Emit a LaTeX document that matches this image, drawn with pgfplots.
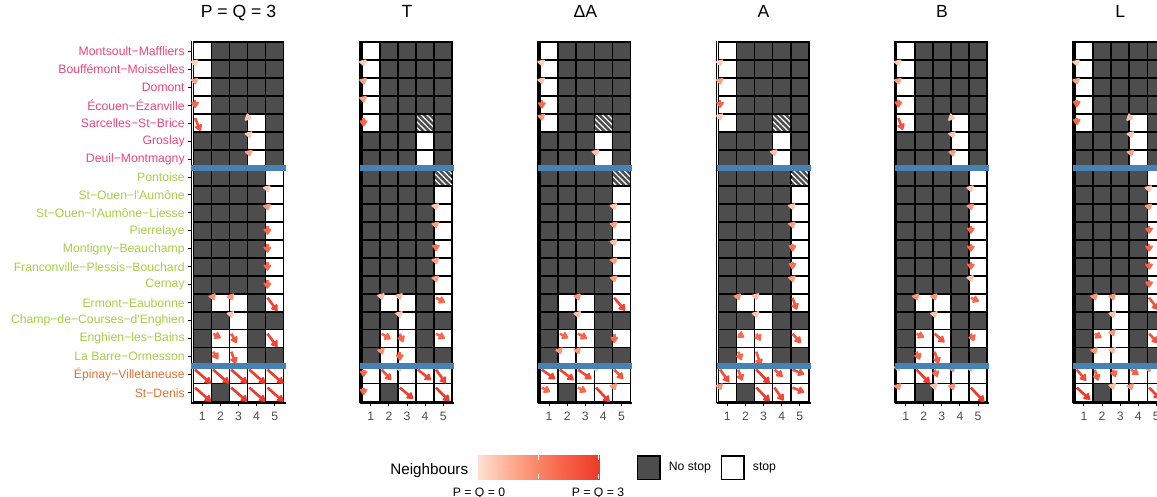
\documentclass[border=0pt]{standalone}
\usepackage{pgfplots}
\pgfplotsset{compat=1.18}
\usepackage{pgfplotstable}
\usepackage{fontspec}
\setmainfont{Liberation Sans}
\newfontfamily\labfont{Liberation Sans}
\newcommand\ap{{\labfont'}}
\usetikzlibrary{arrows.meta,patterns.meta}
\definecolor{tiledark}{HTML}{4D4D4D}
\definecolor{pinklab}{HTML}{E8457A}
\definecolor{greenlab}{HTML}{A3CF45}
\definecolor{orangelab}{HTML}{E07234}
\definecolor{sepblue}{HTML}{4682B4}
\definecolor{ticklab}{HTML}{4D4D4D}
\pgfplotsset{colormap={reds}{rgb255=(254,224,210) rgb255=(252,162,132) rgb255=(248,104,76) rgb255=(238,58,42)}}

% tiles: 0 = no stop, 1 = stop, 2 = hatched
\pgfplotstableread{
y c1 c2 c3 c4 c5
20 1 0 0 0 0
19 1 0 0 0 0
18 1 0 0 0 0
17 1 0 0 0 0
16 1 0 0 1 0
15 0 0 0 1 0
14 0 0 0 1 0
13 0 0 0 0 1
12 0 0 0 0 1
11 0 0 0 0 1
10 0 0 0 0 1
9 0 0 0 0 1
8 0 0 0 0 1
7 0 0 0 0 1
6 0 1 1 0 1
5 0 0 1 0 0
4 0 1 1 0 1
3 0 1 1 0 0
2 1 1 1 1 1
1 1 0 1 1 1
}\tilesA
\pgfplotstableread{
y c1 c2 c3 c4 c5
20 1 0 0 0 0
19 1 0 0 0 0
18 1 0 0 0 0
17 1 0 0 0 0
16 1 0 0 2 0
15 0 0 0 1 0
14 0 0 0 1 0
13 0 0 0 0 2
12 0 0 0 0 1
11 0 0 0 0 1
10 0 0 0 0 1
9 0 0 0 0 1
8 0 0 0 0 1
7 0 0 0 0 1
6 0 1 1 0 1
5 0 0 1 0 0
4 0 1 1 0 1
3 0 1 1 0 0
2 1 1 1 1 1
1 1 0 1 1 1
}\tilesB

\pgfplotstableread{
x y u v m
1 19 0.03 -0.12 0.3
1 18 0.03 -0.14 1.0
1 17 0 -0.45 2.0
1 16 0.3 -0.72 2.5
4 16 0.12 -0.04 0.4
4 15 0.03 -0.12 0.3
4 14 0.03 -0.14 1.0
5 12 0.03 -0.12 0.4
5 11 0.03 -0.14 1.2
5 10 0 -0.5 2.0
5 9 0 -0.5 2.0
5 8 0 -0.5 2.0
5 7 0 -0.5 2.0
2 6 0.06 -0.14 1.3
3 6 0.06 -0.14 1.3
5 6 0.55 -0.74 2.8
3 5 0.03 -0.12 0.4
2 4 0.42 -0.24 2.2
3 4 0.3 -0.52 2.4
5 4 0.55 -0.74 2.8
2 3 0.28 -0.42 2.2
3 3 0.25 -0.67 2.4
1 2 0.88 -0.78 3.0
2 2 0.88 -0.78 3.0
3 2 0.88 -0.78 3.0
4 2 0.88 -0.78 3.0
5 2 0.88 -0.78 3.0
1 1 0.88 -0.78 3.0
3 1 0.88 -0.78 3.0
4 1 0.88 -0.78 3.0
5 1 0.88 -0.78 3.0
}\arrP
\pgfplotstableread{
x y u v m
1 19 0.03 -0.12 0.3
1 18 0.03 -0.14 1.0
1 17 0.03 -0.14 1.0
1 16 0 -0.47 2.0
5 11 0.03 -0.12 0.4
5 10 0.03 -0.14 1.0
5 9 0 -0.4 1.8
5 8 0.03 -0.14 1.0
5 7 0.03 -0.14 1.0
2 6 0.03 -0.12 0.5
3 6 0.03 -0.12 0.6
5 6 0.5 -0.26 2.0
3 5 0.03 -0.12 0.4
2 4 0.5 -0.3 2.0
3 4 0.18 -0.48 2.0
5 4 0.5 -0.26 2.0
2 3 0.05 -0.16 1.3
3 3 0 -0.5 2.0
1 2 0 -0.4 2.0
2 2 0.53 -0.58 2.5
3 2 0.03 -0.12 0.4
4 2 0.73 -0.58 2.7
5 2 0.55 -0.76 2.8
1 1 0 -0.42 2.0
3 1 0.74 -0.62 2.9
5 1 0.74 -0.76 3.0
}\arrT
\pgfplotstableread{
x y u v m
1 19 0.03 -0.12 0.3
1 18 0.03 -0.12 0.4
1 17 0 -0.47 2.0
1 16 0.03 -0.14 1.2
4 14 0.03 -0.12 0.5
5 11 0.03 -0.12 0.4
5 10 0.03 -0.14 1.0
5 9 0.03 -0.12 0.5
5 8 0.03 -0.14 1.0
5 7 0.03 -0.14 1.0
3 6 0.05 -0.14 1.2
5 6 0.6 -0.72 2.8
3 5 0.03 -0.12 0.5
2 4 0.46 -0.24 2.0
3 4 0.5 -0.27 2.1
5 4 0 -0.52 2.0
2 3 0.05 -0.14 1.2
3 3 0.05 -0.14 1.2
1 2 0.74 -0.52 2.8
2 2 0.76 -0.58 2.8
3 2 0.74 -0.52 2.6
4 2 0.03 -0.12 0.4
5 2 0.5 -0.52 2.4
1 1 0.46 -0.24 2.0
3 1 0.46 -0.24 2.0
4 1 0.74 -0.8 3.0
5 1 0.05 -0.14 1.2
}\arrDA
\pgfplotstableread{
x y u v m
1 19 0.03 -0.12 0.3
1 18 0.03 -0.14 1.0
1 17 0 -0.44 2.0
1 16 0.03 -0.12 0.4
4 14 0.03 -0.12 0.5
5 11 0.03 -0.12 0.4
5 10 0.03 -0.14 1.0
5 9 0 -0.42 1.8
5 8 0 -0.42 1.8
5 7 0.03 -0.14 1.0
2 6 0.05 -0.14 1.2
3 6 0.03 -0.12 0.5
5 6 0.24 -0.67 2.3
3 5 0.03 -0.12 0.4
2 4 0.33 -0.2 1.9
3 4 0.24 -0.39 2.0
5 4 0.46 -0.52 2.4
2 3 0.18 -0.48 2.0
3 3 0.24 -0.76 2.3
1 2 0.5 -0.7 2.6
2 2 0.22 -0.62 2.3
3 2 0.74 -0.76 3.0
4 2 0.46 -0.39 2.4
5 2 0.65 -0.26 2.5
1 1 0.05 -0.14 1.2
3 1 0.74 -0.76 3.0
4 1 0.5 -0.72 2.7
5 1 0.65 -0.26 2.5
}\arrA
\pgfplotstableread{
x y u v m
1 19 0.03 -0.12 0.3
1 18 0.03 -0.14 1.0
1 17 0 -0.42 2.0
1 16 0.24 -0.67 2.5
4 16 0.12 -0.04 0.5
4 15 0.03 -0.12 0.4
4 14 0.03 -0.14 1.0
5 12 0.03 -0.12 0.4
5 11 0.03 -0.14 1.2
5 10 0 -0.44 2.0
5 9 0 -0.44 2.0
5 8 0 -0.44 2.0
5 7 0.03 -0.12 0.5
2 6 0.05 -0.14 1.2
3 6 0.05 -0.14 1.2
5 6 0.46 -0.2 2.0
3 5 0.03 -0.12 0.5
2 4 0.42 -0.2 2.0
3 4 0.55 -0.48 2.4
5 4 0.18 -0.42 2.0
2 3 0.18 -0.44 2.0
3 3 0.22 -0.67 2.3
1 2 0.03 -0.12 0.5
2 2 0.74 -0.76 3.0
3 2 0.15 -0.42 2.0
4 2 0.05 -0.14 1.3
5 2 0.03 -0.12 0.6
1 1 0.05 -0.14 1.3
3 1 0.03 -0.12 0.5
4 1 0.05 -0.14 1.3
5 1 0.74 -0.8 3.0
}\arrB
\pgfplotstableread{
x y u v m
1 19 0.03 -0.12 0.3
1 18 0.03 -0.14 1.0
1 17 0 -0.4 2.0
1 16 0 -0.4 2.0
4 16 0.12 -0.04 0.5
4 15 0.03 -0.12 0.4
4 14 0.03 -0.14 1.0
5 12 0.03 -0.12 0.4
5 11 0.03 -0.14 1.0
5 10 0 -0.44 2.0
5 9 0 -0.44 2.0
5 8 0 -0.44 2.0
5 7 0 -0.44 2.0
2 6 0.05 -0.14 1.2
3 6 0.05 -0.14 1.2
5 6 0.5 -0.67 2.5
3 5 0.03 -0.12 0.5
2 4 0.37 -0.24 2.0
3 4 0.05 -0.14 1.2
5 4 0.5 -0.52 2.5
2 3 0.05 -0.14 1.2
3 3 0.03 -0.12 0.6
1 2 0.52 -0.62 2.6
2 2 0.18 -0.62 2.3
3 2 0.15 -0.42 2.0
4 2 0.42 -0.28 2.1
5 2 0.05 -0.14 1.2
1 1 0.74 -0.67 3.0
3 1 0.03 -0.12 0.5
4 1 0.05 -0.14 1.2
5 1 0.6 -0.62 2.8
}\arrL

\pgfplotsset{
  panel/.style={
    set layers,
    anchor=south west,
    x=9.05pt, y=8.985pt,
    xmin=0.4, xmax=5.6, ymin=0.43, ymax=20.55,
    axis x line*=bottom, axis y line*=left,
    axis line style={line width=0.85pt, -, black},
    xtick={1,2,3,4,5},
    ytick=\empty,
    tick align=outside,
    major tick length=1.8pt,
    tick style={line width=0.5pt, black},
    /pgf/number format/assume math mode=true,
    xticklabel style={font=\fontsize{6.1}{7}\selectfont, text=ticklab, inner sep=0pt},
    xticklabel shift=2.6pt,
    title style={font=\fontsize{8.8}{10}\selectfont, at={(0.5,1)}, anchor=base, yshift=5.7pt},
    clip=false,
    colormap name=reds,
    point meta min=0, point meta max=3,
  },
  tile/.style={only marks, scatter, point meta=explicit symbolic,
    on layer=axis background, mark layer=axis background,
    scatter/classes={0={mark=square*, fill=tiledark, draw=black},
                     1={mark=square*, fill=white, draw=black},
                     2={mark=square*, fill=tiledark, draw=black}},
    mark size=4.5pt, mark options={line width=0.75pt}},
  flowarrow/.style={quiver={u=\thisrow{u}, v=\thisrow{v}, colored},
    point meta=\thisrow{m}, -{Triangle[length=3.5pt,width=4.4pt,round]}, line width=1.3pt},
  hatch/.style={draw=black, line width=0.75pt,
    pattern={Lines[angle=-45,distance=2pt,line width=0.6pt]}, pattern color=white},
  sep/.style={sepblue, line width=3pt},
}

\newcommand\tiles[1]{%
  \pgfplotsinvokeforeach{1,2,3,4,5}{\addplot[tile] table[x expr=##1, y=y, meta=c##1]{#1};}}
\newcommand\arrowsof[1]{%
  \addplot[flowarrow] table[x expr=\thisrow{x}-0.4, y expr=\thisrow{y}+0.28]{#1};}
\newcommand\seplines{%
  \addplot[sep] coordinates {(0.4,13.5) (5.6,13.5)};
  \addplot[sep] coordinates {(0.4,2.5) (5.6,2.5)};}
\newcommand\hatched{%
  \addplot[hatch] coordinates {(3.5,15.5) (4.5,15.5) (4.5,16.5) (3.5,16.5)} --cycle;
  \addplot[hatch] coordinates {(4.5,12.5) (5.5,12.5) (5.5,13.5) (4.5,13.5)} --cycle;}

\begin{document}
\begin{tikzpicture}
\begin{axis}[panel, at={(95.72pt,47.05pt)}, title={P = Q = 3},
  ytick={1,...,20},
  yticklabel style={font=\fontsize{6.1}{7}\selectfont, inner sep=0pt, anchor=east},
  yticklabel shift=1.4pt,
  yticklabels={
    {\textcolor{orangelab}{St−Denis}},
    {\textcolor{orangelab}{Épinay−Villetaneuse}},
    {\textcolor{greenlab}{La Barre−Ormesson}},
    {\textcolor{greenlab}{Enghien−les−Bains}},
    {\textcolor{greenlab}{Champ−de−Courses−d\ap Enghien}},
    {\textcolor{greenlab}{Ermont−Eaubonne}},
    {\textcolor{greenlab}{Cernay}},
    {\textcolor{greenlab}{Franconville−Plessis−Bouchard}},
    {\textcolor{greenlab}{Montigny−Beauchamp}},
    {\textcolor{greenlab}{Pierrelaye}},
    {\textcolor{greenlab}{St−Ouen−l\ap Aumône−Liesse}},
    {\textcolor{greenlab}{St−Ouen−l\ap Aumône}},
    {\textcolor{greenlab}{Pontoise}},
    {\textcolor{pinklab}{Deuil−Montmagny}},
    {\textcolor{pinklab}{Groslay}},
    {\textcolor{pinklab}{Sarcelles−St−Brice}},
    {\textcolor{pinklab}{Écouen−Ézanville}},
    {\textcolor{pinklab}{Domont}},
    {\textcolor{pinklab}{Bouffémont−Moisselles}},
    {\textcolor{pinklab}{Montsoult−Maffliers}}}]
\tiles{\tilesA}
\arrowsof{\arrP}
\seplines
\end{axis}

\begin{axis}[panel, at={(179.97pt,47.05pt)}, title={T}]
\tiles{\tilesB}
\hatched
\arrowsof{\arrT}
\seplines
\end{axis}

\begin{axis}[panel, at={(269.1pt,47.05pt)}, title={ΔA}]
\tiles{\tilesB}
\hatched
\arrowsof{\arrDA}
\seplines
\end{axis}

\begin{axis}[panel, at={(358.25pt,47.05pt)}, title={A}]
\tiles{\tilesB}
\hatched
\arrowsof{\arrA}
\seplines
\end{axis}

\begin{axis}[panel, at={(447.4pt,47.05pt)}, title={B}]
\tiles{\tilesA}
\arrowsof{\arrB}
\seplines
\end{axis}

\begin{axis}[panel, at={(536.55pt,47.05pt)}, title={L}]
\tiles{\tilesA}
\arrowsof{\arrL}
\seplines
\end{axis}

% legend: colour bar and stop keys
\begin{axis}[at={(239pt,8.85pt)}, anchor=south west, width=60.5pt, height=12.15pt,
  scale only axis, xmin=0, xmax=3, ymin=0, ymax=1, hide axis, clip=false,
  colormap name=reds, point meta min=0, point meta max=3,
  legend columns=2, legend cell align=left,
  legend image code/.code={\draw[#1, line width=0.6pt] (0pt,-5.8pt) rectangle (11.3pt,5.8pt);},
  legend style={at={(1.3116,0.48)}, anchor=west, draw=none, fill=none,
    inner sep=0pt, outer sep=0pt, font=\fontsize{6.1}{7}\selectfont,
    nodes={inner sep=0pt}, column sep=0pt,
    /tikz/every odd column/.append style={column sep=4.2pt},
    /tikz/every even column/.append style={column sep=4.9pt}}]
\addplot[surf, shader=interp, point meta=x, mesh/cols=7, forget plot] coordinates {
 (0,0) (0.5,0) (1,0) (1.5,0) (2,0) (2.5,0) (3,0)
 (0,1) (0.5,1) (1,1) (1.5,1) (2,1) (2.5,1) (3,1)};
\draw[white, line width=0.5pt] (axis cs:1.5,0) -- (axis cs:1.5,0.2);
\draw[white, line width=0.5pt] (axis cs:1.5,0.8) -- (axis cs:1.5,1);
\draw[white, line width=0.5pt] (axis cs:2.98,0) -- (axis cs:2.98,0.2);
\draw[white, line width=0.5pt] (axis cs:2.98,0.8) -- (axis cs:2.98,1);
\addlegendimage{fill=tiledark, draw=black}
\addlegendentry{No stop}
\addlegendimage{fill=white, draw=black}
\addlegendentry{stop}
\end{axis}
\node[anchor=base west, inner sep=0pt, font=\fontsize{7.6}{9}\selectfont] at (195pt,11.45pt) {Neighbours};
\node[anchor=base, inner sep=0pt, font=\fontsize{6.1}{7}\selectfont] at (239.5pt,0.4pt) {P = Q = 0};
\node[anchor=base, inner sep=0pt, font=\fontsize{6.1}{7}\selectfont] at (299pt,0.4pt) {P = Q = 3};

\pgfresetboundingbox
\path[use as bounding box] (0,0) rectangle (578.5pt,248.5pt);
\end{tikzpicture}
\end{document}
